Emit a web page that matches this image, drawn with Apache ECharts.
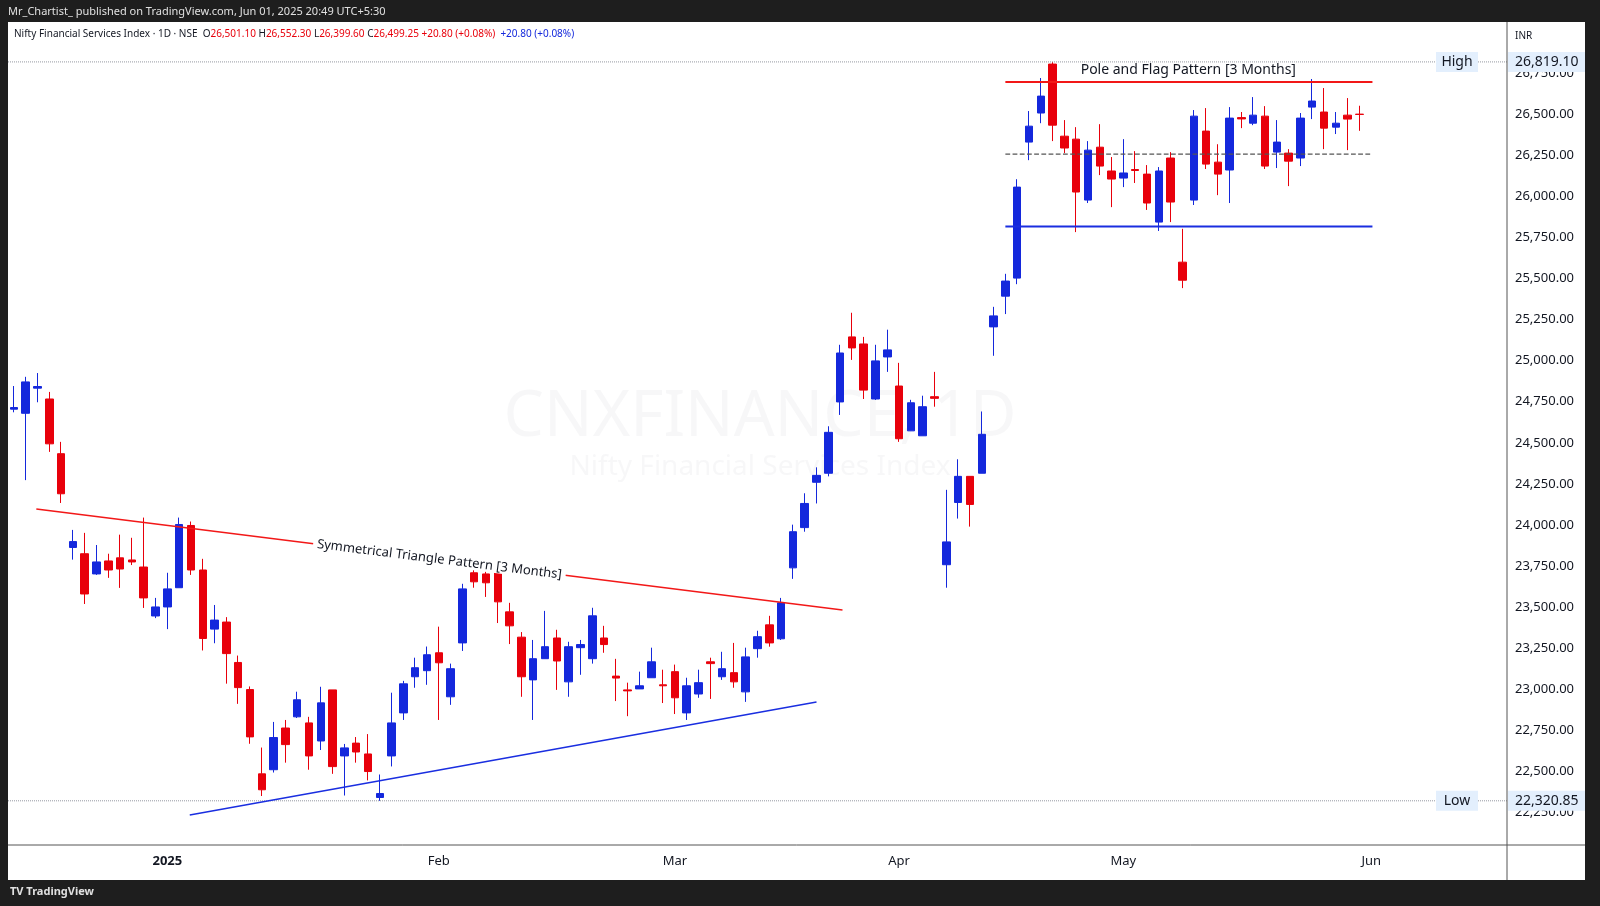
<!DOCTYPE html>
<html><head><meta charset="utf-8">
<script src="https://cdn.jsdelivr.net/npm/echarts@6/dist/echarts.min.js"></script>
<style>html,body{margin:0;padding:0;background:#1e1e1e;}#c{width:1600px;height:906px;}</style>
</head><body><div id="c"></div>
<script>
// [open, close, low, high]
const candles = [
[24705,24715,24686,24846],[24680,24871,24273,24902],[24833,24843,24747,24925],[24767,24494,24445,24810],
[24434,24190,24134,24506],[23863,23899,23789,23970],[23825,23580,23519,23952],[23702,23775,23696,23878],
[23781,23726,23678,23825],[23800,23732,23617,23941],[23787,23775,23756,23922],[23744,23556,23495,24045],
[23446,23501,23433,23556],[23501,23611,23366,23709],[23618,24003,23618,24045],[23997,23726,23696,24021],
[23726,23309,23236,23794],[23366,23421,23280,23513],[23409,23217,23034,23439],[23163,23010,22911,23205],
[22998,22710,22668,23017],[22485,22388,22350,22645],[22510,22706,22493,22801],[22764,22663,22553,22813],
[22832,22936,22825,22985],[22795,22594,22510,22832],[22685,22917,22630,23015],[22996,22529,22485,22996],
[22594,22643,22353,22667],[22672,22618,22553,22709],[22606,22499,22445,22727],[22341,22365,22320.85,22481],
[22594,22795,22530,22979],[22856,23033,22813,23051],[23076,23131,23009,23192],[23113,23210,23027,23260],
[23222,23161,22813,23381],[22954,23125,22905,23156],[23282,23611,23233,23642],[23709,23654,23618,23726],
[23702,23648,23562,23733],[23715,23532,23403,23726],[23471,23386,23275,23526],[23317,23076,22954,23348],
[23057,23186,22813,23300],[23186,23259,23186,23477],[23312,23172,22996,23362],[23045,23259,22954,23289],
[23253,23272,23088,23300],[23186,23447,23156,23496],[23312,23272,23222,23386],[23080,23068,22928,23185],
[22996,22990,22836,23040],[23002,23021,23002,23107],[23070,23167,23070,23253],[23027,23021,22916,23119],
[23107,22948,22849,23150],[22856,23021,22813,23070],[22971,23040,22948,23119],[23167,23156,22941,23192],
[23076,23125,23057,23228],[23101,23045,23009,23282],[22984,23197,22923,23253],[23247,23320,23192,23356],
[23392,23282,23259,23447],[23307,23526,23300,23556],[23739,23959,23672,24002],[23984,24131,23959,24193],
[24260,24302,24131,24351],[24315,24564,24296,24601],[24749,25047,24670,25097],[25145,25078,25005,25292],
[25102,24821,24767,25145],[24767,24999,24761,25097],[25023,25066,24932,25189],[24846,24525,24506,24987],
[24573,24744,24573,24762],[24543,24720,24543,24787],[24781,24771,24720,24932],[23758,23897,23618,24214],
[24137,24296,24039,24400],[24296,24125,23990,24296],[24315,24552,24315,24691],[25206,25273,25030,25328],
[25393,25485,25284,25529],[25503,26057,25466,26105],[26331,26428,26221,26520],[26508,26611,26446,26721],
[26806,26434,26337,26819.1],[26367,26295,26264,26465],[26349,26027,25783,26422],[25978,26282,25960,26337],
[26300,26185,26130,26440],[26155,26106,25935,26240],[26112,26143,26057,26349],[26164,26158,26082,26276],
[26136,25960,25918,26191],[25844,26155,25790,26179],[26234,25966,25844,26270],[25600,25490,25442,25803],
[25978,26489,25948,26526],[26398,26197,26167,26538],[26209,26136,26008,26318],[26161,26477,25960,26544],
[26480,26472,26416,26514],[26446,26495,26434,26605],[26489,26185,26167,26550],[26270,26331,26173,26465],
[26264,26215,26063,26288],[26234,26477,26185,26508],[26544,26581,26471,26715],[26514,26416,26288,26660],
[26422,26446,26380,26514],[26495,26471,26282,26599],[26501.10,26499.25,26399.60,26552.30]
];
const monthLabels = {13:'2025',36:'Feb',56:'Mar',75:'Apr',94:'May',115:'Jun'};
const totalSlots = 127;
const categories = Array.from({length: totalSlots}, (_, i) => String(i));
const triangleUpper = [[1.9,24097],[70.2,23482]];
const triangleLower = [[14.9,22234],[68,22922]];
const flagTop = [[84,26697],[115.1,26697]];
const flagBottom = [[84,25817],[115.1,25817]];
const flagMid = [[84,26258],[115.1,26258]];
const highValue = 26819.10, lowValue = 22320.85;

const chart = echarts.init(document.getElementById('c'));
const F = 'Noto Sans, sans-serif';
const fmt = v => v.toLocaleString('en-US',{minimumFractionDigits:2,maximumFractionDigits:2});
function lineSeries(data, color, type, width){
  return {type:'line', xAxisIndex:1, data, symbol:'none', silent:true, z:5,
    lineStyle:{color, width:width||1.5, type:type||'solid'}, animation:false};
}
chart.setOption({
  animation:false,
  backgroundColor:'#ffffff',
  grid:{left:8, right:93, top:32.2, bottom:52.5, show:false},
  xAxis:[{type:'category', data:categories, boundaryGap:true, offset:-8.5,
    axisLine:{show:false}, axisTick:{show:false}, splitLine:{show:false},
    axisLabel:{interval:0, margin:10, color:'#131722', fontFamily:F, fontSize:13,
      formatter:(v)=>{const l=monthLabels[+v]; if(!l) return ''; return l==='2025'?'{b|2025}':l;},
      rich:{b:{fontWeight:'bold', fontSize:13, fontFamily:F, color:'#131722'}}}},
    {type:'value', min:-0.5, max:totalSlots-0.5, show:false}],
  yAxis:{type:'value', position:'right', min:22000, max:27000, interval:250, scale:false,
    axisLine:{show:false}, axisTick:{show:false}, splitLine:{show:false},
    axisLabel:{showMaxLabel:false, showMinLabel:false, color:'#131722', fontFamily:F, fontSize:13, margin:8, formatter:fmt}},
  series:[
    {type:'candlestick', data:candles, barWidth:8, z:3,
      itemStyle:{color:'#1428dc', color0:'#e8000b', borderColor:'#1428dc', borderColor0:'#e8000b', borderWidth:1}},
    lineSeries([[-0.5,highValue],[totalSlots-0.5,highValue]],'#9598a1','dotted',1),
    lineSeries([[-0.5,lowValue],[totalSlots-0.5,lowValue]],'#9598a1','dotted',1),
    lineSeries(triangleUpper,'#f21818'),
    lineSeries(triangleLower,'#1a2ee0'),
    lineSeries(flagTop,'#f21818',null,2),
    lineSeries(flagBottom,'#1a2ee0',null,2),
    lineSeries(flagMid,'#555','dashed',1.2)
  ]
});

const p1 = chart.convertToPixel({xAxisIndex:1,yAxisIndex:0}, triangleUpper[0]);
const p2 = chart.convertToPixel({xAxisIndex:1,yAxisIndex:0}, triangleUpper[1]);
const ang = Math.atan2(p2[1]-p1[1], p2[0]-p1[0]);
const tx = p1[0] + (p2[0]-p1[0])*0.5, ty = p1[1] + (p2[1]-p1[1])*0.5;
const hy = chart.convertToPixel({yAxisIndex:0}, highValue);
const ly = chart.convertToPixel({yAxisIndex:0}, lowValue);
const fy = chart.convertToPixel({yAxisIndex:0}, 26697);
const fx = chart.convertToPixel({xAxisIndex:1}, 99.5);
const tag = (y,label,val)=>[
  {type:'rect', shape:{x:1436,y:y-10,width:42,height:20}, style:{fill:'#e3effd'}, z:50},
  {type:'text', x:1457, y:y, style:{text:label, fill:'#131722', font:'14px '+F, align:'center', verticalAlign:'middle'}, z:51},
  {type:'rect', shape:{x:1508,y:y-10,width:78,height:20}, style:{fill:'#e3effd'}, z:50},
  {type:'text', x:1515, y:y, style:{text:val, fill:'#131722', font:'14px '+F, verticalAlign:'middle'}, z:51}
];
chart.setOption({graphic:[
  {type:'rect', shape:{x:0,y:0,width:1600,height:22}, style:{fill:'#1e1e1e'}, z:60},
  {type:'rect', shape:{x:0,y:0,width:8,height:906}, style:{fill:'#1e1e1e'}, z:60},
  {type:'rect', shape:{x:1585,y:0,width:15,height:906}, style:{fill:'#1e1e1e'}, z:60},
  {type:'rect', shape:{x:0,y:880,width:1600,height:26}, style:{fill:'#1e1e1e'}, z:60},
  {type:'line', shape:{x1:1507,y1:22,x2:1507,y2:880}, style:{stroke:'#555',lineWidth:1}, z:40},
  {type:'line', shape:{x1:8,y1:845,x2:1585,y2:845}, style:{stroke:'#555',lineWidth:1}, z:40},
  {type:'text', x:8, y:12, style:{text:'Mr_Chartist_ published on TradingView.com, Jun 01, 2025 20:49 UTC+5:30', fill:'#e0e0e0', font:'11px '+F, verticalAlign:'middle'}, z:61},
  {type:'text', x:10, y:892, style:{text:'TV TradingView', fill:'#e0e0e0', font:'bold 11px '+F, verticalAlign:'middle'}, z:61},
  {type:'text', x:14, y:34, style:{text:'Nifty Financial Services Index · 1D · NSE  {l|O}{r|26,501.10} {l|H}{r|26,552.30} {l|L}{r|26,399.60} {l|C}{r|26,499.25} {r|+20.80 (+0.08%)}  {bl|+20.80 (+0.08%)}',
    fill:'#131722', font:'10px '+F, verticalAlign:'middle',
    rich:{l:{fill:'#131722',font:'10px '+F},r:{fill:'#e8000b',font:'10px '+F},bl:{fill:'#1428dc',font:'10px '+F}}}, z:45},
  {type:'text', x:1515, y:36, style:{text:'INR', fill:'#131722', font:'10px '+F, verticalAlign:'middle'}, z:45},
  {type:'text', x:760, y:418, style:{text:'CNXFINANCE, 1D', fill:'rgba(120,120,130,0.06)', font:'64px '+F, align:'center', verticalAlign:'middle'}, z:1},
  {type:'text', x:760, y:467, style:{text:'Nifty Financial Services Index', fill:'rgba(120,120,130,0.06)', font:'28px '+F, align:'center', verticalAlign:'middle'}, z:1},
  {type:'text', x:tx, y:ty, rotation:-ang, style:{text:'Symmetrical Triangle Pattern [3 Months]', fill:'#131722', font:'13px '+F, align:'center', verticalAlign:'middle', backgroundColor:'#fff', padding:[0,4]}, z:20},
  {type:'text', x:fx, y:fy-12, style:{text:'Pole and Flag Pattern [3 Months]', fill:'#131722', font:'14px '+F, align:'center', verticalAlign:'middle'}, z:20},
  ...tag(hy,'High',fmt(highValue)), ...tag(ly,'Low',fmt(lowValue))
]});
</script></body></html>
